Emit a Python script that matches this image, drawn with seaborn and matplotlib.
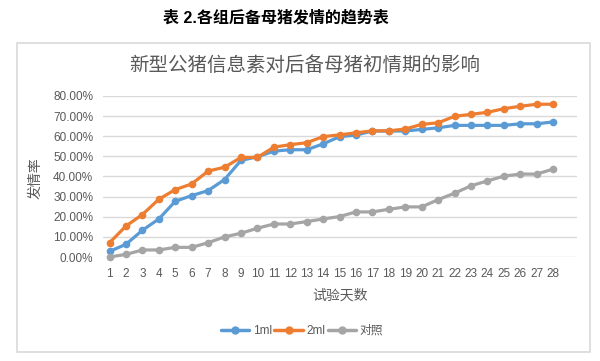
import numpy as np
import pandas as pd
import matplotlib
matplotlib.use("Agg")
import matplotlib.pyplot as plt
import seaborn as sns
from matplotlib.patches import Rectangle
from matplotlib.ticker import PercentFormatter

days = list(range(1, 29))
s1ml = [2.8, 6.3, 13.3, 18.9, 27.7, 30.5, 33.0, 38.5, 48.0, 49.8, 52.6, 53.3, 53.3, 56.2,
        59.8, 60.6, 62.6, 62.6, 62.6, 63.4, 64.2, 65.4, 65.4, 65.4, 65.4, 66.2, 66.2, 67.1]
s2ml = [7.1, 15.4, 21.1, 28.7, 33.5, 36.3, 42.7, 44.6, 49.5, 49.5, 54.6, 55.8, 56.8, 59.8,
        60.7, 61.7, 62.7, 62.7, 63.6, 65.9, 66.7, 69.9, 70.9, 71.9, 73.7, 74.9, 75.9, 75.9]
control = [0.0, 1.3, 3.5, 3.5, 4.8, 4.8, 7.1, 10.0, 11.8, 14.3, 16.4, 16.4, 17.6, 18.9,
           20.1, 22.4, 22.4, 23.7, 24.9, 24.9, 28.5, 31.7, 35.4, 37.8, 40.2, 41.2, 41.2, 43.7]
series_names = ["1ml", "2ml", "对照"]
yticks = [0, 10, 20, 30, 40, 50, 60, 70, 80]

df = pd.DataFrame({
    "day": days * 3,
    "rate": s1ml + s2ml + control,
    "group": [series_names[0]] * 28 + [series_names[1]] * 28 + [series_names[2]] * 28,
})

sns.set_theme(style="white")
plt.rcParams["font.family"] = ["Liberation Sans", "Noto Sans CJK SC", "DejaVu Sans"]

fig = plt.figure(figsize=(6.0, 3.61), dpi=100)
ax = fig.add_axes([103 / 600, 1 - 257 / 361, (577 - 103) / 600, (257 - 96) / 361])

palette = {"1ml": "#5B9BD5", "2ml": "#ED7D31", "对照": "#A5A5A5"}
sns.lineplot(data=df, x="day", y="rate", hue="group", palette=palette, ax=ax,
             marker="o", markersize=5.5, markeredgewidth=0, linewidth=2.3,
             dashes=False, legend=True)
for ln in ax.lines:
    ln.set_clip_on(False)

ax.set_xlim(0.6, 29.45)
ax.set_ylim(0, 80)
ax.set_yticks(yticks)
ax.yaxis.set_major_formatter(PercentFormatter(decimals=2))
ax.set_xticks(days)
ax.set_xticklabels([str(d) for d in days])
ax.grid(axis="y", color="#D9D9D9", linewidth=1)
ax.grid(axis="x", visible=False)
for sp in ax.spines.values():
    sp.set_visible(False)
ax.tick_params(axis="both", length=0, labelsize=8.5, colors="#595959")
ax.tick_params(axis="y", pad=7)
ax.tick_params(axis="x", pad=8)
ax.set_xlabel("试验天数", fontsize=10, color="#595959", labelpad=6)
ax.set_ylabel("发情率", fontsize=10, color="#595959")
ax.yaxis.set_label_coords(-0.127, 0.49)

handles, labels = ax.get_legend_handles_labels()
ax.get_legend().remove()
leg = fig.legend(handles, labels, loc="center", bbox_to_anchor=(302 / 600, 1 - 331 / 361),
                 ncol=3, frameon=False, fontsize=8.5, handlelength=2.4, handletextpad=0.3,
                 columnspacing=0.2, labelcolor="#595959")
for h in leg.legend_handles:
    h.set_markersize(6)
    h.set_linewidth(2.5)

fig.text(276 / 600, 1 - 18 / 361, "表 2.各组后备母猪发情的趋势表", ha="center", va="center",
         fontsize=11.5, fontweight="bold", color="black")
fig.text(305 / 600, 1 - 66 / 361, "新型公猪信息素对后备母猪初情期的影响", ha="center",
         va="center", fontsize=14, color="#595959")

fig.patches.append(Rectangle((17 / 600, 1 - 352 / 361), (590 - 17) / 600, (352 - 43) / 361,
                             transform=fig.transFigure, fill=False, edgecolor="#D9D9D9",
                             linewidth=1.2))

fig.savefig("out.png", dpi=100)
